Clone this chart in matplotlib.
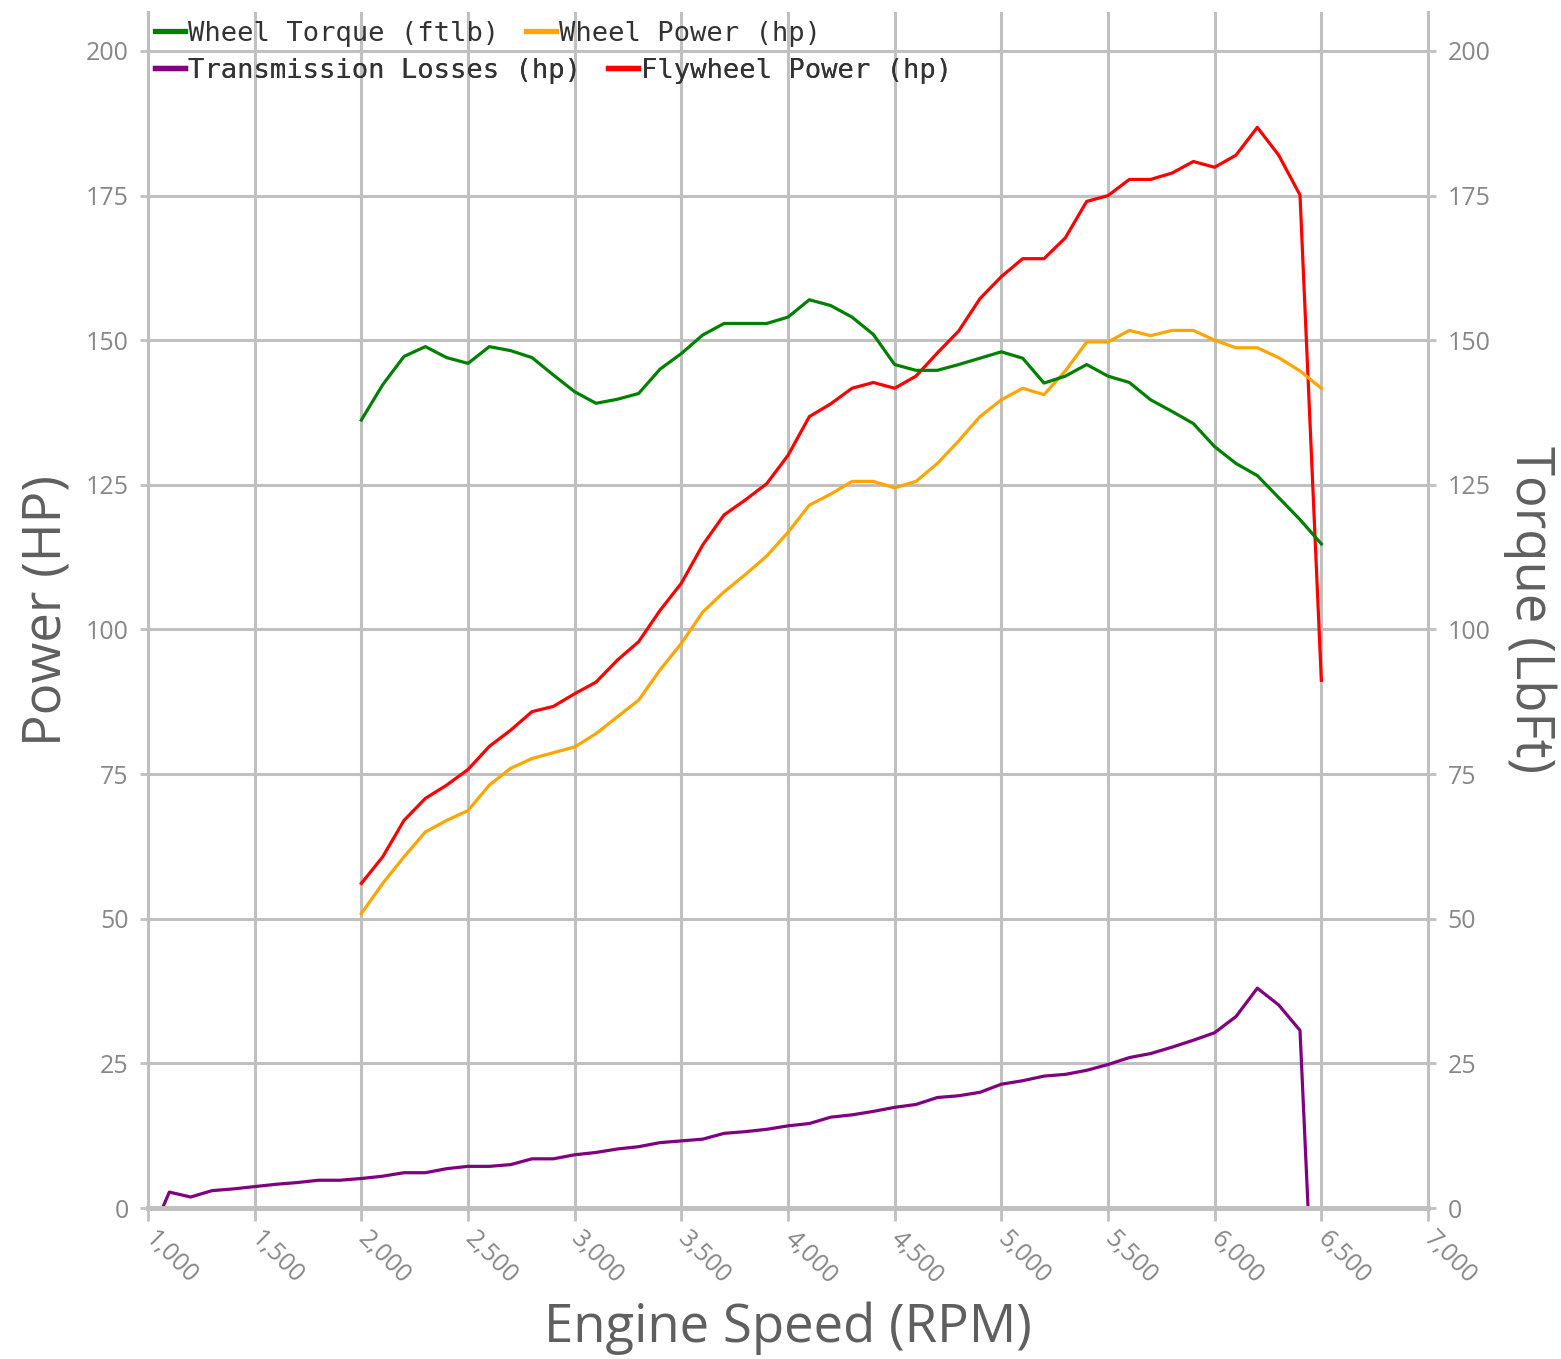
import matplotlib
matplotlib.use('Agg')
import matplotlib.pyplot as plt
from matplotlib.lines import Line2D

# engine speed (rpm) for the dyno sweep
rpm = list(range(2000, 6501, 100))
rpm_losses = list(range(1000, 6501, 100))

wheel_torque = [136.2, 142.3, 147.2, 148.9, 147.0, 146.0, 148.9, 148.2, 147.0, 144.0,
                141.1, 139.1, 139.8, 140.8, 145.0, 147.7, 150.9, 152.9, 152.9, 152.9,
                154.0, 157.0, 156.0, 154.0, 151.0, 145.8, 144.8, 144.8, 145.8, 146.9,
                148.0, 146.9, 142.6, 143.8, 145.8, 143.8, 142.7, 139.7, 137.7, 135.6,
                131.6, 128.7, 126.6, 122.8, 119.0, 114.8]

wheel_power = [50.9, 56.1, 60.7, 65.0, 67.0, 68.7, 73.1, 76.0, 77.7, 78.7,
               79.7, 82.0, 84.9, 87.8, 93.0, 97.6, 103.0, 106.5, 109.5, 112.7,
               116.8, 121.5, 123.4, 125.6, 125.6, 124.5, 125.6, 128.7, 132.6, 136.8,
               139.7, 141.7, 140.6, 144.7, 149.7, 149.7, 151.7, 150.8, 151.7, 151.7,
               150.0, 148.7, 148.7, 147.0, 144.7, 141.7]

flywheel_power = [56.1, 60.7, 67.0, 70.8, 73.1, 75.8, 79.8, 82.6, 85.8, 86.7,
                  88.9, 90.9, 94.7, 97.9, 103.3, 108.0, 114.6, 119.8, 122.4, 125.2,
                  130.1, 136.8, 139.0, 141.7, 142.7, 141.7, 143.8, 147.8, 151.6, 157.2,
                  161.0, 164.1, 164.1, 167.7, 174.0, 175.0, 177.8, 177.8, 178.9, 180.9,
                  179.9, 182.0, 186.8, 182.0, 175.1, 91.2]

trans_losses = [-5.9, 2.75, 1.9, 3.0, 3.3, 3.7, 4.1, 4.4, 4.8, 4.8,
                5.1, 5.5, 6.1, 6.1, 6.8, 7.2, 7.2, 7.5, 8.5, 8.5,
                9.2, 9.6, 10.2, 10.6, 11.3, 11.6, 11.9, 12.9, 13.2, 13.6,
                14.2, 14.6, 15.7, 16.1, 16.7, 17.4, 17.9, 19.1, 19.4, 20.0,
                21.4, 22.0, 22.8, 23.1, 23.8, 24.8, 26.0, 26.7, 27.8, 29.0,
                30.3, 33.1, 38.0, 35.1, 30.7, -50.5]

x_ticks = list(range(1000, 7001, 500))
x_tick_labels = [f'{v:,}' for v in x_ticks]
y_ticks = list(range(0, 201, 25))

GRID = '#c0c0c0'
TICK_TXT = '#878787'
LABEL_TXT = '#5f5f5f'
SANS = ['Open Sans', 'DejaVu Sans']

W, H = 1561, 1359
fig = plt.figure(figsize=(W / 100, H / 100), dpi=100)
ax = fig.add_axes([148 / W, 1 - 1208 / H, 1280 / W, 1196 / H])
ax2 = ax.twinx()

ymax = 200 * 1196 / 1157
for a in (ax, ax2):
    a.set_xlim(1000, 7000)
    a.set_ylim(0, ymax)
    a.set_yticks(y_ticks)
    a.spines['top'].set_visible(False)
    for s in ('left', 'right'):
        a.spines[s].set_color(GRID)
        a.spines[s].set_linewidth(2.2)
    a.spines['bottom'].set_color(GRID)
    a.spines['bottom'].set_linewidth(3.5)
    a.tick_params(axis='y', direction='out', length=6, width=2, color=GRID,
                  labelcolor=TICK_TXT, labelsize=18, pad=8)
    for lbl in a.get_yticklabels():
        lbl.set_family(SANS)

ax.set_xticks(x_ticks)
ax.set_xticklabels(x_tick_labels)
ax.tick_params(axis='x', direction='out', length=9, width=2, color=GRID,
               labelcolor=TICK_TXT, labelsize=18, pad=11)
for lbl in ax.get_xticklabels():
    lbl.set_family(SANS)
    lbl.set_rotation(-45)
    lbl.set_ha('left')
    lbl.set_va('center')
    lbl.set_rotation_mode('anchor')

ax.grid(True, color=GRID, linewidth=2.2)
ax.set_axisbelow(True)

lw = 2.3
ax.plot(rpm, flywheel_power, color='#ff0000', lw=lw)
ax.plot(rpm, wheel_power, color='#ffa500', lw=lw)
ax.plot(rpm_losses, trans_losses, color='#800080', lw=lw)
ax2.plot(rpm, wheel_torque, color='#008000', lw=lw)

ax.set_xlabel('Engine Speed (RPM)', fontsize=38, color=LABEL_TXT, family=SANS)
ax.xaxis.set_label_coords(0.5, (1208 - 1328) / 1196)
ax.xaxis.label.set_va('center')
ax.set_ylabel('Power (HP)', fontsize=38, color=LABEL_TXT, family=SANS)
ax.yaxis.set_label_coords((47 - 148) / 1280, 0.5)
ax.yaxis.label.set_va('center')
ax2.set_ylabel('Torque (LbFt)', fontsize=38, color=LABEL_TXT, family=SANS, rotation=270)
ax2.yaxis.set_label_coords((1530 - 148) / 1280, 0.5)
ax2.yaxis.label.set_va('center')

# legend flows in rows, so build one legend per row
rows = [[('Wheel Torque (ftlb)', '#008000'), ('Wheel Power (hp)', '#ffa500')],
        [('Transmission Losses (hp)', '#800080'), ('Flywheel Power (hp)', '#ff0000')]]
row_y = [34, 71]
for items, yy in zip(rows, row_y):
    handles = [Line2D([], [], color=c, lw=3.8) for _, c in items]
    leg = ax2.legend(handles, [t for t, _ in items], ncol=2, loc='center left',
                     bbox_to_anchor=(155 / W, 1 - yy / H), bbox_transform=fig.transFigure,
                     frameon=False, borderpad=0, borderaxespad=0, handlelength=1.1,
                     handletextpad=0.1, columnspacing=1.0,
                     prop={'family': 'DejaVu Sans Mono', 'size': 19.6})
    for t in leg.get_texts():
        t.set_color('#333333')
    ax2.add_artist(leg)

fig.savefig('out.png', dpi=100)
